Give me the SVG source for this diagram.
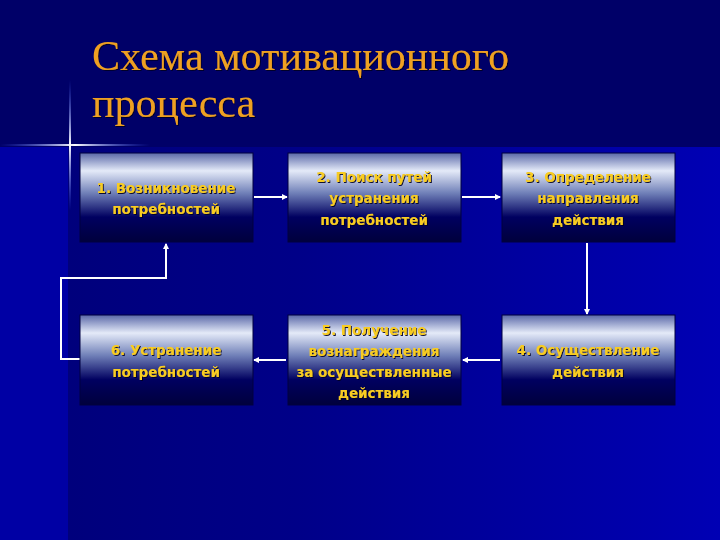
<svg xmlns="http://www.w3.org/2000/svg" width="720" height="540" viewBox="0 0 720 540">
<defs>
<linearGradient id="bgLow" x1="0" y1="0" x2="1" y2="0">
<stop offset="0" stop-color="#00007c"/>
<stop offset="0.35" stop-color="#000088"/>
<stop offset="1" stop-color="#0000b4"/>
</linearGradient>
<linearGradient id="box" x1="0" y1="0" x2="0" y2="1">
<stop offset="0" stop-color="#5a68a8"/>
<stop offset="0.2" stop-color="#e4eaf8"/>
<stop offset="0.45" stop-color="#7080b8"/>
<stop offset="0.72" stop-color="#000060"/>
<stop offset="1" stop-color="#00003c"/>
</linearGradient>
<linearGradient id="glowH" x1="0" y1="0" x2="1" y2="0">
<stop offset="0" stop-color="#4060ff" stop-opacity="0"/>
<stop offset="0.5" stop-color="#ffffff"/>
<stop offset="1" stop-color="#4060ff" stop-opacity="0"/>
</linearGradient>
<linearGradient id="glowV" x1="0" y1="0" x2="0" y2="1">
<stop offset="0" stop-color="#4060ff" stop-opacity="0"/>
<stop offset="0.5" stop-color="#ffffff"/>
<stop offset="1" stop-color="#4060ff" stop-opacity="0"/>
</linearGradient>
<filter id="sh" x="-10%" y="-20%" width="120%" height="140%">
<feDropShadow dx="1" dy="1" stdDeviation="0.6" flood-color="#000020" flood-opacity="0.9"/>
</filter>
<marker id="ah" markerWidth="6" markerHeight="6" refX="5" refY="3" orient="auto" markerUnits="userSpaceOnUse">
<path d="M0,0 L6,3 L0,6 z" fill="#ffffff"/>
</marker>
</defs>
<style>
.bx{fill:url(#box);stroke:#000040;stroke-width:1}
.t{font-family:"DejaVu Sans","Noto Sans",sans-serif;font-size:13.5px;font-weight:bold;fill:#f8cc20;text-anchor:middle;filter:url(#sh)}
.title{font-family:"Liberation Serif","DejaVu Serif",serif;font-size:42px;fill:#eea020;filter:url(#sh)}
.c{fill:none;stroke:#ffffff;stroke-width:2}
</style>
<rect x="0" y="0" width="720" height="540" fill="#000068"/>
<rect x="68" y="147" width="652" height="393" fill="url(#bgLow)"/>
<rect x="0" y="147" width="68" height="393" fill="#0000a4"/>
<rect x="0" y="144" width="150" height="2" fill="url(#glowH)"/>
<rect x="69" y="80" width="2" height="130" fill="url(#glowV)"/>
<text class="title" x="92" y="70">Схема мотивационного</text>
<text class="title" x="92" y="117">процесса</text>
<g id="connectors">
<line class="c" x1="254" y1="197" x2="287" y2="197" marker-end="url(#ah)"/>
<line class="c" x1="462" y1="197" x2="500" y2="197" marker-end="url(#ah)"/>
<line class="c" x1="587" y1="243" x2="587" y2="314" marker-end="url(#ah)"/>
<line class="c" x1="500" y1="360" x2="463" y2="360" marker-end="url(#ah)"/>
<line class="c" x1="286" y1="360" x2="254" y2="360" marker-end="url(#ah)"/>
<polyline class="c" points="80,359 61,359 61,278 166,278 166,244" marker-end="url(#ah)"/>
</g>
<g id="n1"><rect class="bx" x="80" y="153" width="173" height="89"/>
<text class="t" x="166" y="193">1. Возникновение</text><text class="t" x="166" y="214">потребностей</text></g>
<g id="n2"><rect class="bx" x="288" y="153" width="173" height="89"/>
<text class="t" x="374" y="182">2. Поиск путей</text><text class="t" x="374" y="203">устранения</text><text class="t" x="374" y="225">потребностей</text></g>
<g id="n3"><rect class="bx" x="502" y="153" width="173" height="89"/>
<text class="t" x="588" y="182">3. Определение</text><text class="t" x="588" y="203">направления</text><text class="t" x="588" y="225">действия</text></g>
<g id="n4"><rect class="bx" x="502" y="315" width="173" height="90"/>
<text class="t" x="588" y="355">4. Осуществление</text><text class="t" x="588" y="377">действия</text></g>
<g id="n5"><rect class="bx" x="288" y="315" width="173" height="90"/>
<text class="t" x="374" y="335">5. Получение</text><text class="t" x="374" y="356">вознаграждения</text><text class="t" x="374" y="377">за осуществленные</text><text class="t" x="374" y="398">действия</text></g>
<g id="n6"><rect class="bx" x="80" y="315" width="173" height="90"/>
<text class="t" x="166" y="355">6. Устранение</text><text class="t" x="166" y="377">потребностей</text></g>
</svg>
